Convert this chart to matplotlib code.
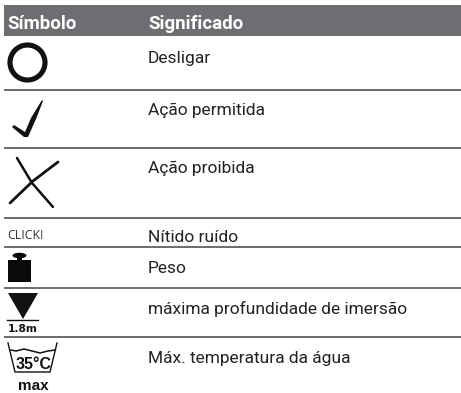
import matplotlib
matplotlib.use('Agg')
import matplotlib.pyplot as plt
from matplotlib.patches import Polygon, Circle, Rectangle, Ellipse

# textos de la tabla
headers = ['Símbolo', 'Significado']
meanings = ['Desligar', 'Ação permitida', 'Ação proibida', 'Nítido ruído', 'Peso',
            'máxima profundidade de imersão', 'Máx. temperatura da água']
click_label = 'CLICK!'
depth_label = '1.8m'
temp_label = '35°C'
max_label = 'max'

W, H = 461, 393
fig = plt.figure(figsize=(W / 100, H / 100), dpi=100)
ax = fig.add_axes([0, 0, 1, 1])
ax.set_xlim(0, W)
ax.set_ylim(H, 0)
ax.axis('off')

body_font = 'Roboto'
fs = 12.5

# cabecera
ax.add_patch(Rectangle((4, 5), W - 4, 31, color='#6d6e71', lw=0))
ax.text(7, 29, headers[0], color='white', fontsize=13.5, fontweight='bold', family=body_font, va='baseline')
ax.text(148, 29, headers[1], color='white', fontsize=13.5, fontweight='bold', family=body_font, va='baseline')

# filas
text_y = [63, 115, 173, 242, 273, 314, 363]
for txt, y in zip(meanings, text_y):
    ax.text(148, y, txt, color='#222222', fontsize=fs, family=body_font, va='baseline')

for y in [90, 148, 218, 247, 288, 337]:
    ax.plot([4, W], [y, y], color='#444444', lw=1.1, solid_capstyle='butt')

# O
ax.add_patch(Circle((27.5, 62.5), 17.5, fill=False, ec='#111111', lw=3.7))

# check
ax.add_patch(Polygon([(12, 127), (14, 125), (25, 132), (31, 118), (42, 100), (43, 101), (36, 119), (28, 137), (24, 137)],
                     closed=True, color='#111111', lw=0))

# X
ax.plot([17, 32, 53], [158, 183, 207], color='#111111', lw=1.8, solid_capstyle='round')
ax.plot([10, 33, 58], [203, 181, 162], color='#111111', lw=2.0, solid_capstyle='round')

# CLICK!
ax.text(7.5, 239, click_label, color='#333333', fontsize=8.8, family='Open Sans', va='baseline')

# pesa
ax.add_patch(Rectangle((8, 260), 23, 22, color='#0a0a0a', lw=0))
ax.add_patch(Rectangle((17, 255), 5, 6, color='#0a0a0a', lw=0))
ax.add_patch(Ellipse((19.5, 255.5), 14, 5.5, color='#0a0a0a', lw=0))

# profundidad
ax.add_patch(Polygon([(8, 293), (38, 293), (23, 319)], closed=True, color='#111111', lw=0))
ax.plot([7, 38], [319.5, 319.5], color='#111111', lw=1)
ax.text(22.5, 332, depth_label, color='#111111', fontsize=7.7, fontweight='bold',
        family='DejaVu Sans', ha='center', va='baseline')

# cubeta de lavado
ax.plot([8, 15, 50, 57], [343, 372, 372, 343], color='#111111', lw=1, solid_joinstyle='miter')
ax.plot([11, 16, 24, 32, 40, 48, 55], [350, 351, 349, 351, 353, 351, 350], color='#111111', lw=1.1)
ax.text(34, 369, temp_label, color='#111111', fontsize=11.5, fontweight='bold',
        family='Liberation Sans', ha='center', va='baseline')
ax.text(33.5, 390, max_label, color='#111111', fontsize=11, fontweight='bold',
        family='Liberation Sans', ha='center', va='baseline')

fig.savefig('out.png', dpi=100)
